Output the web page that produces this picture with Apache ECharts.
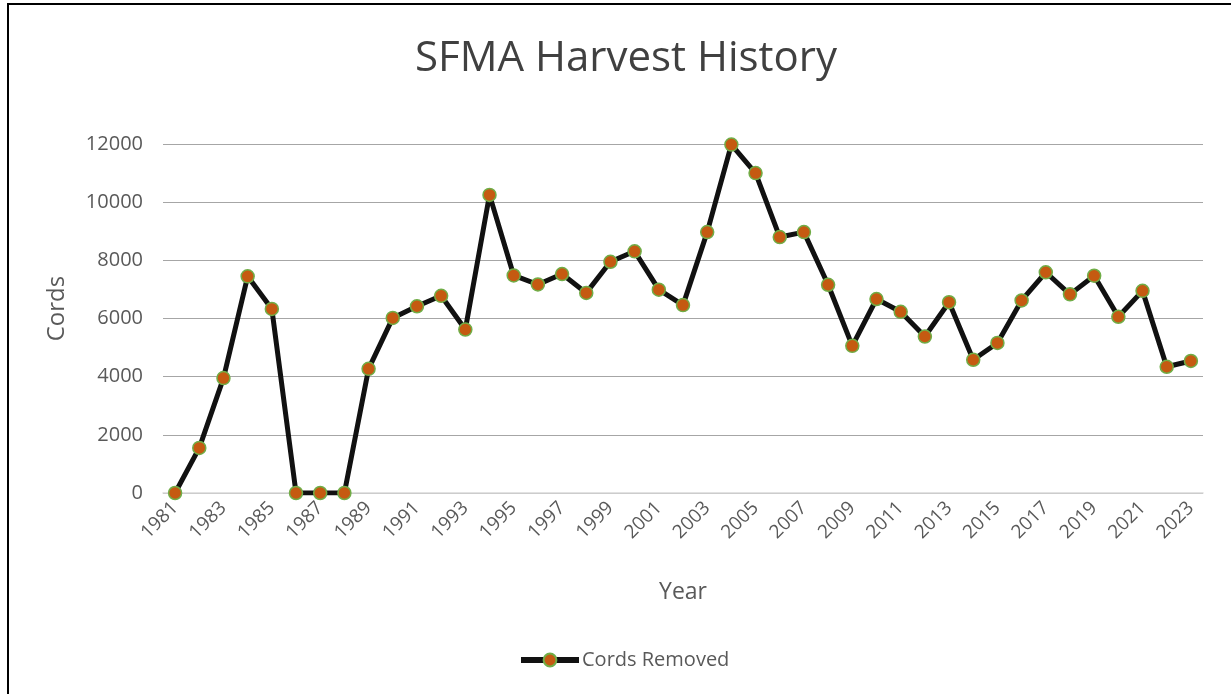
<!DOCTYPE html>
<html>
<head>
<meta charset="utf-8">
<script src="https://cdn.jsdelivr.net/npm/echarts@6/dist/echarts.min.js"></script>
<style>
html,body{margin:0;padding:0;background:#fff;}
#frame{position:absolute;left:7px;top:3px;width:1224px;height:691px;border-left:2px solid #000;border-top:2px solid #000;}
#c{position:absolute;left:0;top:0;width:1231px;height:694px;}
</style>
</head>
<body>
<div id="frame"></div>
<div id="c"></div>
<script>
const years = ['1981','1982','1983','1984','1985','1986','1987','1988','1989','1990','1991','1992','1993','1994','1995','1996','1997','1998','1999','2000','2001','2002','2003','2004','2005','2006','2007','2008','2009','2010','2011','2012','2013','2014','2015','2016','2017','2018','2019','2020','2021','2022','2023'];
const cordsRemoved = [0,1550,3950,7450,6330,0,0,0,4270,6020,6420,6780,5620,10250,7480,7170,7530,6880,7950,8310,6990,6460,8970,11980,11000,8800,8970,7160,5060,6670,6230,5380,6560,4580,5160,6620,7590,6830,7470,6060,6950,4340,4540];
const seriesName = 'Cords Removed';
const titleText = 'SFMA Harvest History';

const chart = echarts.init(document.getElementById('c'));
const font = '"Open Sans", "Liberation Sans", sans-serif';
chart.setOption({
  backgroundColor: 'transparent',
  title: {
    text: titleText,
    left: 621, top: 33, textAlign: 'center',
    textStyle: {fontFamily: font, fontSize: 42, fontWeight: 'normal', color: '#404040'}
  },
  legend: {
    data: [seriesName],
    top: 645, left: 513,
    itemWidth: 58, itemHeight: 16,
    itemGap: 4,
    lineStyle: {width: 6},
    textStyle: {fontFamily: font, fontSize: 20, color: '#595959', padding: [0,0,0,-2]}
  },
  grid: {left: 163, right: 28, top: 144, bottom: 201},
  xAxis: {
    type: 'category',
    data: years,
    boundaryGap: true,
    name: 'Year',
    nameLocation: 'middle',
    nameGap: 88,
    nameTextStyle: {fontFamily: font, fontSize: 23, color: '#595959'},
    axisLine: {lineStyle: {color: '#d9d9d9', width: 1.5}},
    axisTick: {show: false},
    axisLabel: {interval: 1, rotate: 45, fontFamily: font, fontSize: 19, color: '#595959', margin: 12}
  },
  yAxis: {
    type: 'value',
    min: 0, max: 12000, interval: 2000,
    name: 'Cords',
    nameLocation: 'middle',
    nameGap: 94,
    nameRotate: 90,
    nameTextStyle: {fontFamily: font, fontSize: 24, color: '#595959', padding: [0,0,0,20]},
    axisLine: {show: false},
    axisTick: {show: false},
    axisLabel: {fontFamily: font, fontSize: 20, color: '#595959', margin: 20, formatter: v => String(v)},
    splitLine: {lineStyle: {color: '#a6a6a6', width: 1}}
  },
  series: [{
    name: seriesName,
    type: 'line',
    data: cordsRemoved,
    symbol: 'circle',
    symbolSize: 13,
    lineStyle: {color: '#111111', width: 5},
    itemStyle: {color: '#C55A11', borderColor: '#70AD47', borderWidth: 1.5},
    animation: false
  }],
  animation: false
});
</script>
</body>
</html>
